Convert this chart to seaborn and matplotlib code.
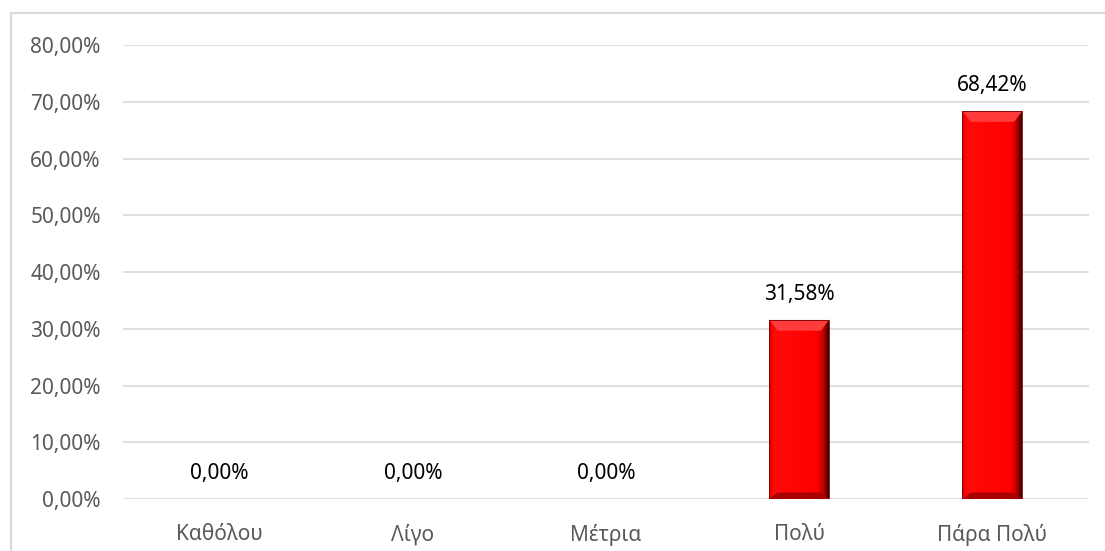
import numpy as np
import pandas as pd
import matplotlib
matplotlib.use("Agg")
import matplotlib.pyplot as plt
import seaborn as sns
from matplotlib.patches import Rectangle, Polygon
from matplotlib.colors import LinearSegmentedColormap

categories = ["Καθόλου", "Λίγο", "Μέτρια", "Πολύ", "Πάρα Πολύ"]
values = [0.0, 0.0, 0.0, 31.58, 68.42]
yticks = [0, 10, 20, 30, 40, 50, 60, 70, 80]

df = pd.DataFrame({"cat": categories, "val": values})

sns.set_theme(style="white")
plt.rcParams["font.family"] = ["Noto Sans", "DejaVu Sans"]

fig = plt.figure(figsize=(11.05, 5.51), dpi=100)
ax = fig.add_axes([123/1105, 52/551, (1089-123)/1105, (499-45.4)/551])

sns.barplot(data=df, x="cat", y="val", color="#FF0000", width=0.31, ax=ax,
            saturation=1, zorder=3)

ax.set_ylim(0, 80)
ax.set_xlim(-0.5, len(categories) - 0.5)
ax.set_yticks(yticks)
ax.set_yticklabels([f"{t:.2f}%".replace(".", ",") for t in yticks])
ax.grid(axis="y", color="#D9D9D9", linewidth=1.2, zorder=0)
ax.grid(axis="x", visible=False)
for s in ax.spines.values():
    s.set_visible(False)
ax.tick_params(axis="y", length=0, pad=16, labelsize=15, labelcolor="#595959")
ax.tick_params(axis="x", length=0, pad=18, labelsize=15, labelcolor="#595959")
ax.set_xlabel("")
ax.set_ylabel("")

# bevel-like shading on bars
cmap_h = LinearSegmentedColormap.from_list(
    "h", [(0, "#E80000"), (0.1, "#FF0A0A"), (0.8, "#FF0000"), (0.9, "#C80000"), (1.0, "#3A0000")])
for p in ax.patches:
    h = p.get_height()
    if h <= 0:
        p.set_visible(False)
        continue
    x0, w = p.get_x(), p.get_width()
    grad = np.linspace(0, 1, 256).reshape(1, -1)
    im = ax.imshow(grad, cmap=cmap_h, aspect="auto", extent=(x0, x0 + w, 0, h),
                   zorder=4)
    im.set_clip_path(p)
    bev = 1.9
    # top bevel (trapezoid, lighter)
    ax.add_patch(Polygon([(x0, h), (x0 + w, h), (x0 + w*0.86, h - bev), (x0 + w*0.14, h - bev)],
                         closed=True, facecolor="#FF3B3B", edgecolor="none", zorder=5))
    # bottom bevel (trapezoid, darker)
    ax.add_patch(Polygon([(x0, 0), (x0 + w, 0), (x0 + w*0.86, bev*0.6), (x0 + w*0.14, bev*0.6)],
                         closed=True, facecolor="#A80000", edgecolor="none", zorder=5))
    p.set_edgecolor("#700000")
    p.set_linewidth(0.6)
    p.set_zorder(6)
    p.set_facecolor("none")

for i, v in enumerate(values):
    ax.annotate(f"{v:.2f}%".replace(".", ","), (i, v), xytext=(0, 11),
                textcoords="offset points", ha="center", va="bottom",
                fontsize=15, color="#000000", zorder=7)

# chart area border
fig.patches.append(Rectangle((11/1105, -0.1), 1.2, (551-13)/551 + 0.1,
                             transform=fig.transFigure, facecolor="none",
                             edgecolor="#D9D9D9", linewidth=1.5))

fig.savefig("out.png", dpi=100)
